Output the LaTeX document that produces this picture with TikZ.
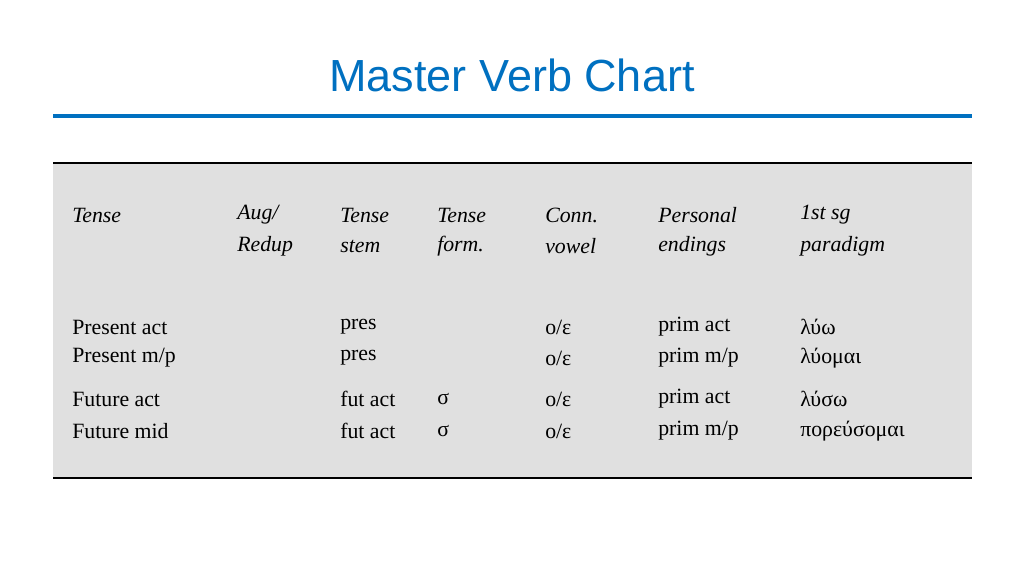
\documentclass[tikz,border=0pt]{standalone}
\usepackage{fontspec}
\setmainfont{Liberation Serif}
\newfontfamily\titlefont{Liberation Sans}
\definecolor{titleblue}{RGB}{0,112,192}
\definecolor{boxgray}{RGB}{224,224,224}

\begin{document}
\begin{tikzpicture}[x=0.025cm,y=-0.025cm]

    \useasboundingbox (0,0) rectangle (1024,576);

    \node[font=\titlefont\fontsize{32}{38}\selectfont,text=titleblue] (title) at (512,75) {Master Verb Chart};
    \draw[titleblue,line width=2.2pt] (53,116) -- (972,116);

    \fill[boxgray] (53,163) rectangle (972,478);
    \draw[line width=1pt] (53,163) -- (972,163);
    \draw[line width=1pt] (53,478) -- (972,478);

    \begin{scope}[every node/.style={anchor=west,inner sep=0pt,font=\fontsize{15.5}{19}\selectfont\itshape}]
        % Header row %
        \node (h1) at (72,215) {Tense};
        \node (h2) at (237,215) {Aug/};
        \node (h2b) at (237,246) {Redup};
        \node (h3) at (340,215) {Tense};
        \node (h3b) at (340,246) {stem};
        \node (h4) at (437,215) {Tense};
        \node (h4b) at (437,246) {form.};
        \node (h5) at (545,215) {Conn.};
        \node (h5b) at (545,246) {vowel};
        \node (h6) at (658,215) {Personal};
        \node (h6b) at (658,246) {endings};
        \node (h7) at (800,215) {1st sg};
        \node (h7b) at (800,246) {paradigm};
    \end{scope}

    \begin{scope}[every node/.style={anchor=west,inner sep=0pt,font=\fontsize{15.5}{19}\selectfont}]
        \node (r1) at (72,327) {Present act};
        \node (r1s) at (340,327) {pres};
        \node (r1v) at (545,327) {ο/ε};
        \node (r1e) at (658,327) {prim act};
        \node (r1p) at (800,327) {λύω};

        \node (r2) at (72,358) {Present m/p};
        \node (r2s) at (340,358) {pres};
        \node (r2v) at (545,358) {ο/ε};
        \node (r2e) at (658,358) {prim m/p};
        \node (r2p) at (800,358) {λύομαι};

        \node (r3) at (72,399) {Future act};
        \node (r3s) at (340,399) {fut act};
        \node (r3f) at (437,399) {σ};
        \node (r3v) at (545,399) {ο/ε};
        \node (r3e) at (658,399) {prim act};
        \node (r3p) at (800,399) {λύσω};

        \node (r4) at (72,431) {Future mid};
        \node (r4s) at (340,431) {fut act};
        \node (r4f) at (437,431) {σ};
        \node (r4v) at (545,431) {ο/ε};
        \node (r4e) at (658,431) {prim m/p};
        \node (r4p) at (800,431) {πορεύσομαι};
    \end{scope}

\end{tikzpicture}
\end{document}
